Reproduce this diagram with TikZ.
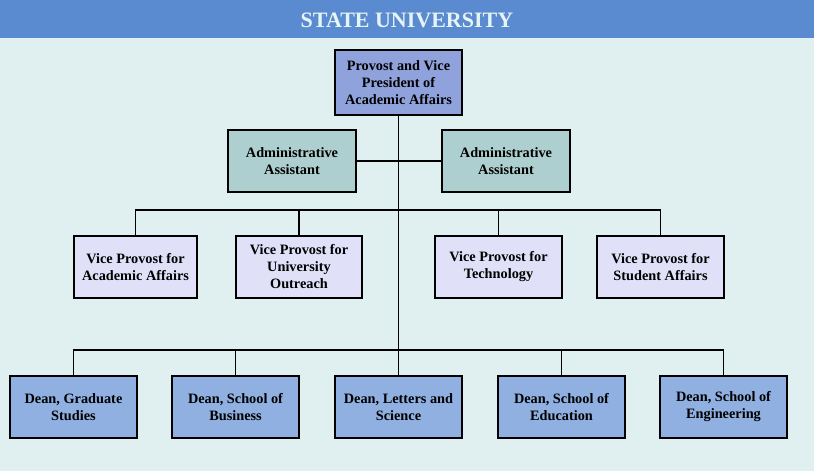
\documentclass[tikz,border=0pt]{standalone}
\usepackage{fontspec}
\setmainfont{Liberation Serif}
\definecolor{bgc}{HTML}{E0EFEF}
\definecolor{headc}{HTML}{5A8AD0}
\definecolor{titlec}{HTML}{E6F4F4}
\definecolor{provc}{HTML}{8FA2DC}
\definecolor{adminc}{HTML}{AECFCF}
\definecolor{vpc}{HTML}{E0E0F8}
\definecolor{deanc}{HTML}{8FB0E0}
\begin{document}
\begin{tikzpicture}[x=1pt,y=-1pt,
  orgbox/.style={draw=black, line width=1.8pt, align=center, inner sep=0pt,
    minimum width=127pt, minimum height=62pt,
    font=\bfseries\fontsize{14.3}{17}\selectfont},
  provbox/.style={orgbox, fill=provc, minimum height=65pt},
  adminbox/.style={orgbox, fill=adminc, minimum width=128pt},
  vpbox/.style={orgbox, fill=vpc},
  deanbox/.style={orgbox, fill=deanc},
  link/.style={draw=black, line width=1.8pt}]
\useasboundingbox (0,0) rectangle (814,471);
\fill[bgc] (0,0) rectangle (814,471);
\fill[headc] (0,0) rectangle (814,38);
\node[text=titlec, font=\bfseries\fontsize{22}{24}\selectfont] (title) at (407,20) {STATE UNIVERSITY};

\node[provbox] (prov) at (398.5,82.5) {Provost and Vice\\President of\\Academic Affairs};
\node[adminbox] (adminL) at (292,161) {Administrative\\Assistant};
\node[adminbox] (adminR) at (506,161) {Administrative\\Assistant};

\node[vpbox, minimum width=123pt] (vp1) at (135.5,267) {Vice Provost for\\Academic Affairs};
\node[vpbox, minimum width=126pt] (vp2) at (299,267) {Vice Provost for\\University\\Outreach};
\node[vpbox] (vp3) at (498.5,267) {Vice Provost for\\Technology};
\node[vpbox] (vp4) at (660.5,267) {Vice Provost for\\Student Affairs};

\node[deanbox] (d1) at (73.5,407) {Dean, Graduate\\Studies};
\node[deanbox] (d2) at (235.5,407) {Dean, School of\\Business};
\node[deanbox] (d3) at (398.5,407) {Dean, Letters and\\Science};
\node[deanbox] (d4) at (561.5,407) {Dean, School of\\Education};
\node[deanbox] (d5) at (723.5,407) {Dean, School of\\Engineering};

\coordinate (busV) at (398.5,210);
\coordinate (busD) at (398.5,350);

\draw[link] (prov.south) -- (busD);
\draw[link] (adminL.east) -- (adminR.west);
\draw[link] (vp1.north) -- (vp1.north |- busV) -- (vp4.north |- busV) -- (vp4.north);
\draw[link] (vp2.north) -- (vp2.north |- busV);
\draw[link] (vp3.north) -- (vp3.north |- busV);
\draw[link] (d1.north) -- (d1.north |- busD) -- (d5.north |- busD) -- (d5.north);
\draw[link] (d2.north) -- (d2.north |- busD);
\draw[link] (d3.north) -- (busD);
\draw[link] (d4.north) -- (d4.north |- busD);
\end{tikzpicture}
\end{document}
